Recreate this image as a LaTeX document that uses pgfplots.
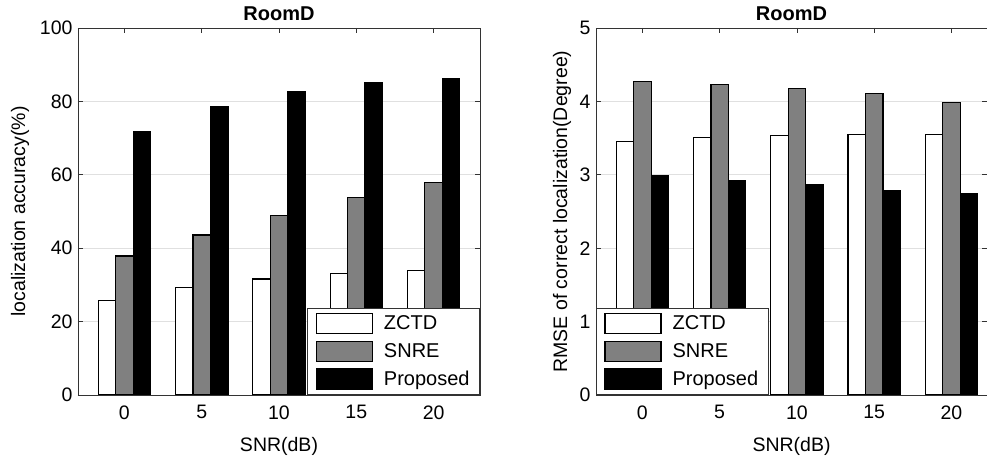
\documentclass[border=0pt]{standalone}
\usepackage{fontspec}
\setmainfont{Liberation Sans}
\usepackage{pgfplots}
\pgfplotsset{compat=1.18}

\pgfplotsset{
  mystyle/.style={
    scale only axis, height=367pt,
    ybar, bar width=0.226,
    xtick={0,1,2,3,4}, xticklabels={0,5,10,15,20},
    xmin=-0.6, ymin=0,
    tick align=inside,
    ticklabel style={font=\fontsize{19.5}{21}\selectfont},
    xticklabel style={yshift=-7pt},
    yticklabel style={xshift=-2pt},
    label style={font=\fontsize{19.5}{21}\selectfont},
    every axis title shift=0pt,
    title style={font=\bfseries\fontsize{20}{22}\selectfont, at={(axis description cs:0.5,1.038)}, anchor=center, yshift=0pt},
    xlabel style={at={(axis description cs:0.5,-0.139)}, anchor=center, yshift=0pt},
    ymajorgrids, grid style={black!12, line width=0.8pt},
    axis line style={black!80, line width=0.8pt},
    every tick/.style={black!80, line width=0.8pt},
    major tick length=5pt,
    /pgf/number format/assume math mode=true,
    legend style={draw=black!80, line width=0.8pt, fill=white,
      font=\fontsize{20}{22}\selectfont, legend cell align=left,
      inner xsep=8pt, inner ysep=5pt, row sep=6.5pt,
      /tikz/every odd column/.append style={column sep=9pt}},
    legend image code/.code={\draw[#1] (0pt,-10pt) rectangle (56pt,10pt);},
  }
}

\begin{document}
\begin{tikzpicture}
\begin{axis}[mystyle, at={(0pt,0pt)}, anchor=south west,
  width=402pt, xmax=4.6, ymax=100, ytick={0,20,40,60,80,100},
  title={RoomD}, xlabel={SNR(dB)}, ylabel={localization accuracy(\%)},
  ylabel style={at={(axis description cs:-0.144,0.5)}, anchor=center},
  legend style={at={(1,0)}, anchor=south east}]
\addplot[fill=white, draw=black, line width=1.2pt, bar shift=-0.226]
  coordinates {(0,25.7) (1,29.3) (2,31.6) (3,33.1) (4,33.9)};
\addplot[fill=black!50, draw=black, line width=1.2pt, bar shift=0]
  coordinates {(0,37.9) (1,43.6) (2,49.0) (3,53.8) (4,57.8)};
\addplot[fill=black, draw=black, line width=1.2pt, bar shift=0.226]
  coordinates {(0,71.9) (1,78.6) (2,82.8) (3,85.0) (4,86.2)};
\legend{ZCTD, SNRE, Proposed}
\end{axis}
\begin{axis}[mystyle, at={(518pt,0pt)}, anchor=south west,
  width=391pt, xmax=4.46, ymax=5, ytick={0,1,2,3,4,5},
  title={RoomD}, xlabel={SNR(dB)}, ylabel={RMSE of correct localization(Degree)},
  ylabel style={at={(axis description cs:-0.087,0.5)}, anchor=center},
  legend style={at={(0,0)}, anchor=south west}]
\addplot[fill=white, draw=black, line width=1.2pt, bar shift=-0.226]
  coordinates {(0,3.455) (1,3.51) (2,3.53) (3,3.55) (4,3.55)};
\addplot[fill=black!50, draw=black, line width=1.2pt, bar shift=0]
  coordinates {(0,4.27) (1,4.23) (2,4.18) (3,4.11) (4,3.98)};
\addplot[fill=black, draw=black, line width=1.2pt, bar shift=0.226]
  coordinates {(0,2.99) (1,2.92) (2,2.87) (3,2.79) (4,2.74)};
\legend{ZCTD, SNRE, Proposed}
\end{axis}
\pgfresetboundingbox
\path[use as bounding box] (-78pt,-62pt) rectangle (909pt,395pt);
\end{tikzpicture}
\end{document}
